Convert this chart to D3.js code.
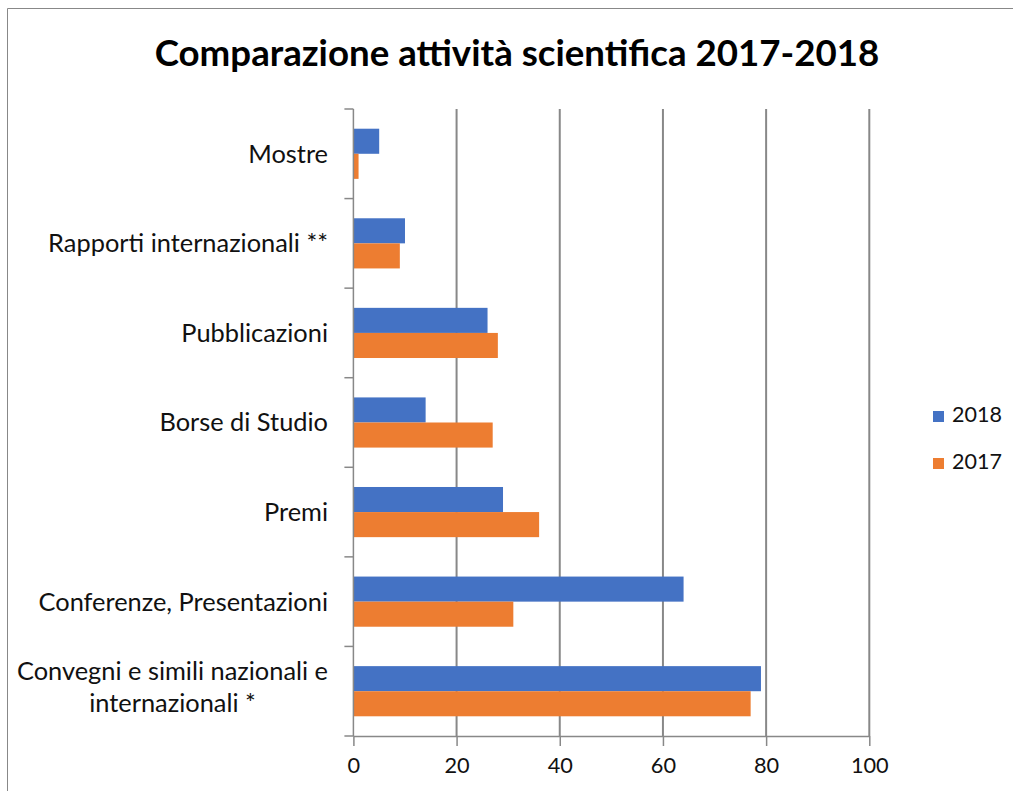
<!DOCTYPE html>
<html><head><meta charset="utf-8">
<script src="https://cdn.jsdelivr.net/npm/d3@7"></script>
<style>body{margin:0;background:#fff}svg{display:block}</style>
</head><body>
<script>
const categories = ["Mostre","Rapporti internazionali **","Pubblicazioni","Borse di Studio","Premi","Conferenze, Presentazioni","Convegni e simili nazionali e internazionali *"];
const series = ["2018","2017"];
const values2018 = [5,10,26,14,29,64,79];
const values2017 = [1,9,28,27,36,31,77];
const xTicks = [0,20,40,60,80,100];
const colors = ["#4472C4","#ED7D31"];
const titleText = "Comparazione attività scientifica 2017-2018";

(function(){
const W = 1013, H = 791;
const FONT = "Lato, 'Open Sans', sans-serif";
const svg = d3.select("body").append("svg").attr("width", W).attr("height", H);

svg.append("path").attr("d", `M7.5,${H+5} L7.5,8.5 L${W+5},8.5`).attr("fill","none").attr("stroke","#888").attr("stroke-width",1);

const pL = 353.4, pR = 869.3, pT = 109, pB = 736;
const x = d3.scaleLinear().domain([0,100]).range([pL,pR]);
const y = d3.scaleBand().domain(categories).range([pT,pB]).paddingInner(0.44).paddingOuter(0.22);
const ySub = d3.scaleBand().domain(series).range([0,y.bandwidth()]);

svg.append("g").selectAll("line").data(xTicks.slice(1)).join("line")
  .attr("x1", d=>x(d)).attr("x2", d=>x(d)).attr("y1", pT).attr("y2", pB)
  .attr("stroke","#888").attr("stroke-width",2);

const data = categories.map((c,i)=>({c, vals:[values2018[i], values2017[i]]}));
const g = svg.append("g");
data.forEach(d=>{
  g.selectAll(null).data(series.map((s,j)=>({s, v:d.vals[j], j}))).join("rect")
    .attr("x", x(0)).attr("y", e=>y(d.c)+ySub(e.s)).attr("height", ySub.bandwidth())
    .attr("width", e=>x(e.v)-x(0)).attr("fill", e=>colors[e.j]);
});

const xAxis = d3.axisBottom(x).tickValues(xTicks).tickSize(10).tickPadding(12).tickSizeOuter(0);
const xg = svg.append("g").attr("transform",`translate(0,${pB})`).call(xAxis);
xg.select(".domain").attr("stroke","#888").attr("stroke-width",1.5);
xg.selectAll(".tick line").attr("stroke","#888").attr("stroke-width",1.5);
xg.selectAll(".tick text").attr("font-family",FONT).attr("fill","#111");

const step = (pB-pT)/categories.length;
const yTickPos = d3.range(categories.length+1).map(i=>pT + i*step);
svg.append("line").attr("x1",pL).attr("x2",pL).attr("y1",pT).attr("y2",pB).attr("stroke","#888").attr("stroke-width",1.5);
svg.append("g").selectAll("line").data(yTickPos).join("line")
  .attr("x1",pL-9).attr("x2",pL).attr("y1",d=>d).attr("y2",d=>d).attr("stroke","#888").attr("stroke-width",1.5);

const labelG = svg.append("g").attr("font-family",FONT).attr("fill","#111").attr("text-anchor","middle");
const labelLines = {"Convegni e simili nazionali e internazionali *":["Convegni e simili nazionali e","internazionali *"]};
const probe = svg.append("text").attr("font-family",FONT).attr("font-size",100).text("Rapporti internazionali **");
const catSize = 100*280/probe.node().getComputedTextLength();
probe.remove();
categories.forEach(c=>{
  const lines = labelLines[c] || [c];
  const cy = y(c) + y.bandwidth()/2 - (lines.length>1 ? 4 : 0);
  const lh = 32;
  const t = labelG.append("text").attr("font-size",catSize);
  lines.forEach((ln,k)=>{
    t.append("tspan").attr("x",0).attr("y", cy + (k-(lines.length-1)/2)*lh).attr("dy","0.35em").text(ln);
  });
  const bw = t.node().getBBox().width;
  t.attr("transform",`translate(${328 - bw/2},0)`);
});

const tp = svg.append("text").attr("font-family",FONT).attr("font-size",100).text("100");
const tickSize = 1.05*100*36/tp.node().getComputedTextLength();
tp.remove();
xg.selectAll(".tick text").attr("font-size",tickSize);

const tt = svg.append("text").attr("font-family",FONT).attr("font-weight","bold").attr("font-size",100).text(titleText);
const titleSize = 100*725/tt.node().getComputedTextLength();
tt.attr("font-size",titleSize).attr("x",517).attr("y",66).attr("text-anchor","middle").attr("fill","#000");

const lp = svg.append("text").attr("font-family",FONT).attr("font-size",100).text("2018");
const legSize = 1.04*100*48/lp.node().getComputedTextLength();
lp.remove();
const leg = svg.append("g");
series.forEach((s,i)=>{
  const yy = 411 + i*47;
  leg.append("rect").attr("x",933).attr("y",yy).attr("width",11).attr("height",11).attr("fill",colors[i]);
  leg.append("text").attr("x",952).attr("y",yy+11).attr("font-family",FONT).attr("font-size",legSize).attr("fill","#111").text(s);
});
})();
</script>
</body></html>
